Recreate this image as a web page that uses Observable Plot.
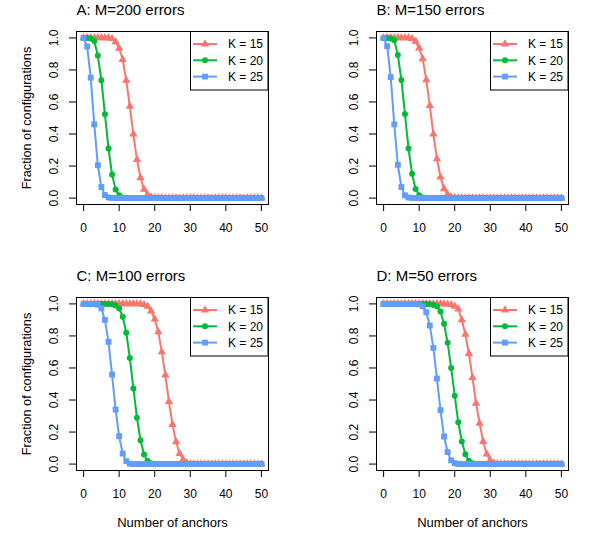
<!DOCTYPE html>
<html><head><meta charset="utf-8">
<script src="https://cdn.jsdelivr.net/npm/d3@7"></script>
<script src="https://cdn.jsdelivr.net/npm/@observablehq/plot@0.6"></script>
<style>
body{margin:0;background:#fff;font-family:"Liberation Sans",Arial,sans-serif}
#fig{position:relative;width:600px;height:533px;background:#fff}
.panel{position:absolute;width:300px;height:266px}
</style></head>
<body><div id="fig"></div>
<script>
const anchors = [0,1,2,3,4,5,6,7,8,9,10,11,12,13,14,15,16,17,18,19,20,21,22,23,24,25,26,27,28,29,30,31,32,33,34,35,36,37,38,39,40,41,42,43,44,45,46,47,48,49,50];
const kLabels = ["K = 15","K = 20","K = 25"];
const kColors = ["#F8766D","#00BA38","#619CFF"];
const kSymbols = ["triangle","circle","square"];
const panelTitles = ["A: M=200 errors","B: M=150 errors","C: M=100 errors","D: M=50 errors"];
const xTicks = [0,10,20,30,40,50];
const yTicks = [0,0.2,0.4,0.6,0.8,1];
const xLabel = "Number of anchors";
const yLabel = "Fraction of configurations";

// Panel A: M=200
const a15 = [1,1,1,1,1,1,1,1,0.995,0.975, 0.935,0.865,0.735,0.573,0.40,0.24,0.127,0.055,0.022,0.006, 0.001,0,0,0,0,0,0,0,0,0, 0,0,0,0,0,0,0,0,0,0, 0,0,0,0,0,0,0,0,0,0, 0];
const a20 = [1,1,0.997,0.98,0.89,0.735,0.523,0.31,0.148,0.054, 0.018,0.004,0.001,0,0,0,0,0,0,0, 0,0,0,0,0,0,0,0,0,0, 0,0,0,0,0,0,0,0,0,0, 0,0,0,0,0,0,0,0,0,0, 0];
const a25 = [1,0.946,0.752,0.46,0.205,0.069,0.019,0.004,0.001,0, 0,0,0,0,0,0,0,0,0,0, 0,0,0,0,0,0,0,0,0,0, 0,0,0,0,0,0,0,0,0,0, 0,0,0,0,0,0,0,0,0,0, 0];
// Panel B: M=150
const b15 = [1,1,1,1,1,1,1,1,0.996,0.978, 0.936,0.869,0.738,0.578,0.40,0.245,0.131,0.058,0.024,0.007, 0.001,0,0,0,0,0,0,0,0,0, 0,0,0,0,0,0,0,0,0,0, 0,0,0,0,0,0,0,0,0,0, 0];
const b20 = [1,1,0.997,0.985,0.894,0.738,0.525,0.31,0.152,0.056, 0.017,0.004,0.001,0,0,0,0,0,0,0, 0,0,0,0,0,0,0,0,0,0, 0,0,0,0,0,0,0,0,0,0, 0,0,0,0,0,0,0,0,0,0, 0];
const b25 = [1,0.948,0.755,0.46,0.208,0.069,0.017,0.004,0.001,0, 0,0,0,0,0,0,0,0,0,0, 0,0,0,0,0,0,0,0,0,0, 0,0,0,0,0,0,0,0,0,0, 0,0,0,0,0,0,0,0,0,0, 0];
// Panel C: M=100
const c15 = [1,1,1,1,1,1,1,1,1,1, 1,1,1,1,1,1,1,0.995,0.985,0.955, 0.905,0.826,0.70,0.555,0.39,0.247,0.139,0.066,0.028,0.008, 0.002,0,0,0,0,0,0,0,0,0, 0,0,0,0,0,0,0,0,0,0, 0];
const c20 = [1,1,1,1,1,1,1,1,0.998,0.99, 0.972,0.92,0.82,0.663,0.472,0.29,0.149,0.06,0.02,0.005, 0.001,0,0,0,0,0,0,0,0,0, 0,0,0,0,0,0,0,0,0,0, 0,0,0,0,0,0,0,0,0,0, 0];
const c25 = [1,1,1,0.999,0.995,0.972,0.90,0.763,0.559,0.34, 0.174,0.066,0.018,0.003,0,0,0,0,0,0, 0,0,0,0,0,0,0,0,0,0, 0,0,0,0,0,0,0,0,0,0, 0,0,0,0,0,0,0,0,0,0, 0];
// Panel D: M=50
const d15 = [1,1,1,1,1,1,1,1,1,1, 1,1,1,1,1,1,1,1,0.998,0.995, 0.985,0.968,0.90,0.81,0.69,0.54,0.38,0.255,0.14,0.062, 0.023,0.006,0.001,0,0,0,0,0,0,0, 0,0,0,0,0,0,0,0,0,0, 0];
const d20 = [1,1,1,1,1,1,1,1,1,1, 1,1,1,0.998,0.993,0.985,0.952,0.876,0.758,0.60, 0.427,0.261,0.141,0.062,0.021,0.005,0.001,0,0,0, 0,0,0,0,0,0,0,0,0,0, 0,0,0,0,0,0,0,0,0,0, 0];
const d25 = [1,1,1,1,1,1,1,1,1,1, 0.997,0.985,0.948,0.865,0.725,0.534,0.337,0.172,0.075,0.023, 0.006,0.001,0,0,0,0,0,0,0,0, 0,0,0,0,0,0,0,0,0,0, 0,0,0,0,0,0,0,0,0,0, 0];

const panels = [
  {title: panelTitles[0], series: [a15, a20, a25]},
  {title: panelTitles[1], series: [b15, b20, b25]},
  {title: panelTitles[2], series: [c15, c20, c25]},
  {title: panelTitles[3], series: [d15, d20, d25]}
];

const W = 300, H = 266;
const M = {top: 31, right: 32, bottom: 62, left: 76};
const symR = [3.1, 3, 3.3];
const font = "'Liberation Sans', Arial, Helvetica, sans-serif";
const fig = document.getElementById("fig");

panels.forEach((p, i) => {
  const col = i % 2, row = Math.floor(i / 2);
  const marks = [];
  p.series.forEach((vals, j) => {
    const data = anchors.map((a, t) => ({a, v: vals[t]}));
    marks.push(Plot.line(data, {x: "a", y: "v", stroke: kColors[j], strokeWidth: 2}));
    marks.push(Plot.dot(data, {x: "a", y: "v", fill: kColors[j], symbol: kSymbols[j], r: symR[j], stroke: "none"}));
  });
  marks.push(Plot.frame({stroke: "black", strokeWidth: 1}));
  marks.push(Plot.axisX({ticks: xTicks, tickSize: 7, tickPadding: 12, fontSize: 12, label: null}));
  marks.push(Plot.axisY({ticks: yTicks, tickSize: 7, tickPadding: 12, fontSize: 12, tickRotate: -90, tickFormat: d3.format(".1f"), label: null}));
  marks.push(Plot.text([p.title], {frameAnchor: "top-left", text: d => d, dy: -17, lineAnchor: "bottom", textAnchor: "start", fontSize: 15}));
  if (col === 0) marks.push(Plot.text([yLabel], {frameAnchor: "left", text: d => d, dx: -46, rotate: -90, textAnchor: "middle", lineAnchor: "bottom", fontSize: 12.7}));
  if (row === 1) marks.push(Plot.text([xLabel], {frameAnchor: "bottom", text: d => d, dy: 52, lineAnchor: "middle", textAnchor: "middle", fontSize: 13}));

  const svg = Plot.plot({
    width: W, height: H,
    marginTop: M.top, marginRight: M.right, marginBottom: M.bottom, marginLeft: M.left,
    x: {domain: [-2, 52]},
    y: {domain: [-0.04, 1.04]},
    style: {fontFamily: font, fontSize: "12px", background: "white", color: "black", overflow: "visible"},
    marks
  });

  // legend (top-right inside the plot frame)
  const lw = 78, lh = 58.5;
  const x0 = W - M.right - lw, y0 = M.top;
  const g = d3.select(svg).append("g").attr("font-family", font).attr("font-size", 12).attr("text-anchor", "start");
  g.append("rect").attr("x", x0 + 0.5).attr("y", y0 + 0.5).attr("width", lw - 0.5).attr("height", lh)
    .attr("fill", "white").attr("stroke", "black");
  const symMap = {triangle: d3.symbolTriangle, circle: d3.symbolCircle, square: d3.symbolSquare};
  kLabels.forEach((lab, j) => {
    const yy = y0 + 13 + j * 16.3;
    g.append("line").attr("x1", x0 + 3).attr("x2", x0 + 27).attr("y1", yy).attr("y2", yy)
      .attr("stroke", kColors[j]).attr("stroke-width", 2);
    g.append("path").attr("transform", `translate(${x0 + 15},${yy})`)
      .attr("d", d3.symbol(symMap[kSymbols[j]], Math.PI * symR[j] * symR[j])())
      .attr("fill", kColors[j]);
    g.append("text").attr("x", x0 + 38).attr("y", yy).attr("dy", "0.35em")
      .attr("text-anchor", "start").attr("fill", "black").text(lab);
  });

  const div = document.createElement("div");
  div.className = "panel";
  div.style.left = (col * 300) + "px";
  div.style.top = (row * 266) + "px";
  div.appendChild(svg);
  fig.appendChild(div);
});
</script>
</body></html>
